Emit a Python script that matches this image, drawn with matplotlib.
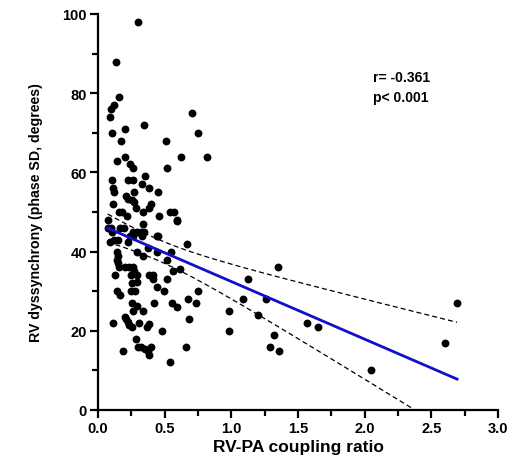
import numpy as np
import matplotlib
matplotlib.use("Agg")
import matplotlib.pyplot as plt
from matplotlib.ticker import MultipleLocator

plt.rcParams['font.family'] = ['Liberation Sans', 'DejaVu Sans']
plt.rcParams['font.weight'] = 'bold'

# RV-PA coupling ratio (x) and RV dyssynchrony (y)
coupling = [
    0.30, 0.135, 0.158, 0.118, 0.10, 0.092, 0.707, 0.345, 0.20, 0.107, 0.748, 0.175, 0.51,
    0.20, 0.62, 0.82, 0.14, 0.24, 0.26, 0.52, 0.355, 0.107, 0.227, 0.263, 0.328, 0.115, 0.385,
    0.12, 0.27, 0.45, 0.208, 0.227, 0.253, 0.268, 0.11, 0.40, 0.285, 0.385, 0.16, 0.178, 0.34,
    0.54, 0.57, 0.215, 0.46, 0.073, 0.595, 0.34, 0.10, 0.165, 0.197, 0.107, 0.26, 0.29, 0.32,
    0.345, 0.24, 0.265, 0.33, 0.45, 0.152, 0.12, 0.09, 0.227, 0.67, 0.378, 0.29, 0.44, 0.55,
    0.14, 0.15, 0.14, 0.15, 0.16, 0.20, 0.23, 0.335, 0.515, 0.26, 0.27, 0.615, 0.565, 0.128,
    0.245, 0.29, 0.385, 0.415, 0.52, 0.41, 1.128, 0.253, 0.44, 0.29, 0.14, 0.165, 0.25, 0.28,
    0.495, 0.748, 0.677, 1.085, 1.258, 0.253, 0.29, 0.42, 0.553, 0.59, 0.735, 0.265, 0.34,
    0.985, 1.198, 0.21, 0.223, 0.235, 0.253, 0.11, 0.308, 0.385, 0.365, 0.68, 0.48, 0.985,
    0.285, 0.30, 0.325, 0.35, 0.378, 0.40, 0.385, 0.185, 0.658, 0.54, 1.29, 1.353, 1.57,
    1.648, 1.32, 1.355, 2.045, 2.60, 2.693, 0.20, 0.077, 0.44, 0.59,
]
dyssynchrony = [
    98, 88, 79, 77, 76, 74, 75, 72, 71, 70, 70, 68, 68,
    64, 64, 64, 63, 62, 61, 61, 59, 58, 58, 58, 57, 56, 56,
    55, 55, 55, 54, 53.3, 53, 52.4, 52, 52, 51, 51, 50, 50, 50,
    50, 50, 49, 49, 48, 48, 47, 46, 46, 46, 45, 45, 45, 45,
    45, 44, 44, 44, 44, 43, 43, 42.5, 42.3, 42, 41, 40, 40, 40,
    40, 39, 38, 37, 36, 36, 36, 39, 38, 36, 35, 35.6, 35, 34,
    34, 34, 34, 34, 33, 33, 33, 32, 31, 32.2, 30, 29, 30, 30,
    30, 30, 28, 28, 28, 27, 26.2, 27, 27, 26, 27, 25, 25,
    25, 24, 23, 22.3, 21.5, 21, 22, 22, 21.7, 21, 23, 20, 20,
    18, 16, 16, 15.3, 14.8, 16, 14, 15, 16, 12, 16, 36, 22,
    21, 19, 15, 10, 17, 27, 23.4, 46, 44, 47.8,
]
annotation_r = "r= -0.361"
annotation_p = "p< 0.001"
xlabel = "RV-PA coupling ratio"
ylabel = "RV dyssynchrony (phase SD, degrees)"

x = np.array(coupling)
y = np.array(dyssynchrony)
n = len(x)
slope, intercept = np.polyfit(x, y, 1)
xs = np.linspace(x.min(), x.max(), 200)
yhat = intercept + slope * xs
resid = y - (intercept + slope * x)
s = np.sqrt(np.sum(resid ** 2) / (n - 2))
sxx = np.sum((x - x.mean()) ** 2)
tval = 1.976
half = tval * s * np.sqrt(1.0 / n + (xs - x.mean()) ** 2 / sxx)

fig = plt.figure(figsize=(5.18, 4.64), dpi=100)
ax = fig.add_axes([98 / 518, 53 / 464, 400 / 518, 396 / 464])

ax.scatter(x, y, s=32, color='black', zorder=3, linewidths=0)
ax.plot(xs, yhat, color='#1010c8', lw=2.0, zorder=4)
ax.plot(xs, yhat + half, color='black', lw=0.9, ls=(0, (4, 2.5)), zorder=2)
ax.plot(xs, yhat - half, color='black', lw=0.9, ls=(0, (4, 2.5)), zorder=2)

ax.set_xlim(0, 3.0)
ax.set_ylim(0, 100)
ax.xaxis.set_major_locator(MultipleLocator(0.5))
ax.xaxis.set_minor_locator(MultipleLocator(0.25))
ax.yaxis.set_major_locator(MultipleLocator(20))
ax.yaxis.set_minor_locator(MultipleLocator(10))
ax.xaxis.set_major_formatter(plt.FuncFormatter(lambda v, p: f"{v:.1f}"))
for sp in ['top', 'right']:
    ax.spines[sp].set_visible(False)
for sp in ['left', 'bottom']:
    ax.spines[sp].set_linewidth(1.6)
ax.tick_params(which='major', length=6, width=1.6, labelsize=10.5, pad=2)
ax.tick_params(which='minor', length=4, width=1.6)
for lab in ax.get_xticklabels() + ax.get_yticklabels():
    lab.set_fontweight('bold')

ax.set_xlabel(xlabel, fontsize=12.5, fontweight='bold', labelpad=3)
ax.set_ylabel(ylabel, fontsize=10.2, fontweight='bold', labelpad=14)

ax.text(2.06, 84.1, annotation_r, fontsize=10, fontweight='bold', va='center', ha='left')
ax.text(2.06, 79.0, annotation_p, fontsize=10, fontweight='bold', va='center', ha='left')

fig.savefig("out.png", dpi=100)
